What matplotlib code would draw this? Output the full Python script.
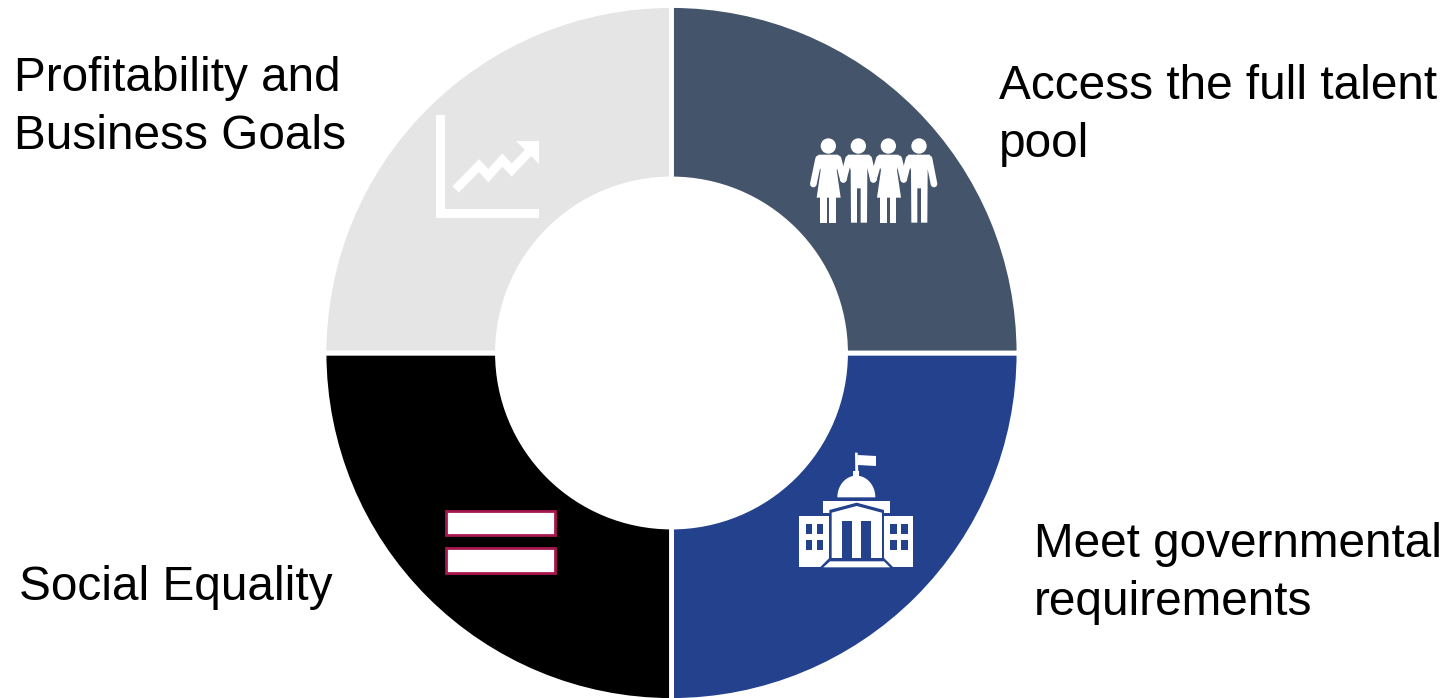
import matplotlib
matplotlib.use('Agg')
import matplotlib.pyplot as plt
import numpy as np
from matplotlib.patches import Circle, Polygon, Rectangle

# equal slices, drawn from the lower right going clockwise on screen
shares = [25, 25, 25, 25]
slice_colors = ['#24418e', '#000000', '#e5e5e5', '#44546a']
labels = ['Profitability and\nBusiness Goals', 'Access the full talent\npool',
          'Meet governmental\nrequirements', 'Social Equality']
label_x = [14, 999, 1034, 19]
label_y = [91, 99, 557, 600]

W, H = 1450, 698
plt.rcParams['font.family'] = ['Liberation Sans', 'DejaVu Sans']

fig = plt.figure(figsize=(W / 100, H / 100), dpi=100)
ax = fig.add_axes([0, 0, 1, 1])

# ring
ax.pie(shares, colors=slice_colors, startangle=0, center=(671.5, 353), radius=347.5,
       wedgeprops=dict(width=173.5, edgecolor='white', linewidth=3.5))
ax.set_xlim(0, W)
ax.set_ylim(H, 0)
ax.set_aspect('equal')
ax.axis('off')

# labels
for t, x, y in zip(labels, label_x, label_y):
    for i, line in enumerate(t.split('\n')):
        ax.text(x, y + i * 58, line, fontsize=34.35, color='black', ha='left', va='baseline')


def zoomed(pts, ox, oy):
    # icon outlines were sketched on a 3x grid
    return [(ox + a / 3, oy + b / 3) for a, b in pts]


def poly(pts, ox, oy, color='white', z=5):
    ax.add_patch(Polygon(zoomed(pts, ox, oy), closed=True, fc=color, ec='none', zorder=z))


def box(x0, y0, x1, y1, ox, oy, color='white', z=5):
    ax.add_patch(Rectangle((ox + x0 / 3, oy + y0 / 3), (x1 - x0) / 3, (y1 - y0) / 3,
                           fc=color, ec='none', zorder=z))


def stroke(pts, ox, oy, lw, color='white', z=5, cap='round'):
    xy = zoomed(pts, ox, oy)
    ax.plot([p[0] for p in xy], [p[1] for p in xy], color=color, lw=lw, zorder=z,
            solid_capstyle=cap, solid_joinstyle='miter')


# people icon
ox, oy = 790, 120
for cx in [115, 205, 295, 387]:
    ax.add_patch(Circle((ox + cx / 3, oy + 78 / 3), 23 / 3, fc='white', ec='none', zorder=5))
for dx in [0, 181]:
    # woman
    poly([(86, 104), (144, 104), (150, 118), (140, 150), (152, 233), (80, 233), (92, 150), (80, 118)],
         ox + dx / 3, oy)
    box(90, 230, 110, 308, ox + dx / 3, oy)
    box(118, 230, 138, 308, ox + dx / 3, oy)
    # man
    poly([(174, 104), (238, 104), (242, 118), (232, 150), (231, 308), (212, 308), (212, 205),
          (201, 205), (201, 308), (183, 308), (182, 150), (170, 118)], ox + dx / 3, oy)
# arms
stroke([(86, 116), (70, 192)], ox, oy, 4.8)
stroke([(144, 116), (160, 178)], ox, oy, 4.8)
stroke([(176, 116), (160, 178)], ox, oy, 4.8)
stroke([(236, 116), (250, 178)], ox, oy, 4.8)
stroke([(268, 116), (250, 178)], ox, oy, 4.8)
stroke([(326, 116), (341, 178)], ox, oy, 4.8)
stroke([(357, 116), (341, 178)], ox, oy, 4.8)
stroke([(417, 116), (432, 192)], ox, oy, 4.8)

# government building icon
ox, oy = 780, 440
blue = slice_colors[0]
poly([(225, 38), (233, 38), (235, 100), (226, 100)], ox, oy)
poly([(233, 45), (288, 48), (288, 78), (233, 75)], ox, oy)
box(220, 92, 238, 110, ox, oy)
# dome is a half ellipse
t = np.linspace(np.pi, 2 * np.pi, 60)
poly(list(zip(229 + 57 * np.cos(t), 172 + 65 * np.sin(t))), ox, oy)
box(130, 182, 330, 218, ox, oy)
box(150, 205, 310, 360, ox, oy)
poly([(148, 210), (230, 188), (312, 210), (312, 220), (305, 218), (230, 198), (155, 218), (155, 355),
      (148, 355)], ox, oy, blue, 6)
box(305, 215, 312, 355, ox, oy, blue, 6)
box(187, 243, 215, 355, ox, oy, blue, 6)
box(243, 243, 272, 355, ox, oy, blue, 6)
box(57, 228, 148, 382, ox, oy)
box(312, 228, 400, 382, ox, oy)
for wx in [77, 110, 331, 364]:
    for wy in [253, 300]:
        box(wx, wy, wx + 19, wy + 29, ox, oy, blue, 6)
poly([(118, 384), (148, 354), (312, 354), (342, 384)], ox, oy, blue, 6)
poly([(130, 382), (150, 364), (312, 364), (330, 382)], ox, oy, 'white', 7)

# rising chart icon
ox, oy = 420, 100
box(48, 45, 76, 355, ox, oy)
box(48, 327, 358, 355, ox, oy)
stroke([(107, 268), (177, 197), (205, 227), (247, 180), (275, 210), (325, 158)], ox, oy, 6.5, cap='butt')
poly([(288, 123), (358, 123), (358, 193)], ox, oy)

# equals icon
ox, oy = 430, 500
for top in [28, 140]:
    ax.add_patch(Rectangle((ox + 49 / 3, oy + (top + 4) / 3), 327 / 3, 74 / 3, fc='white',
                           ec='#a8174f', lw=2, zorder=5))

fig.savefig('out.png', dpi=100)
